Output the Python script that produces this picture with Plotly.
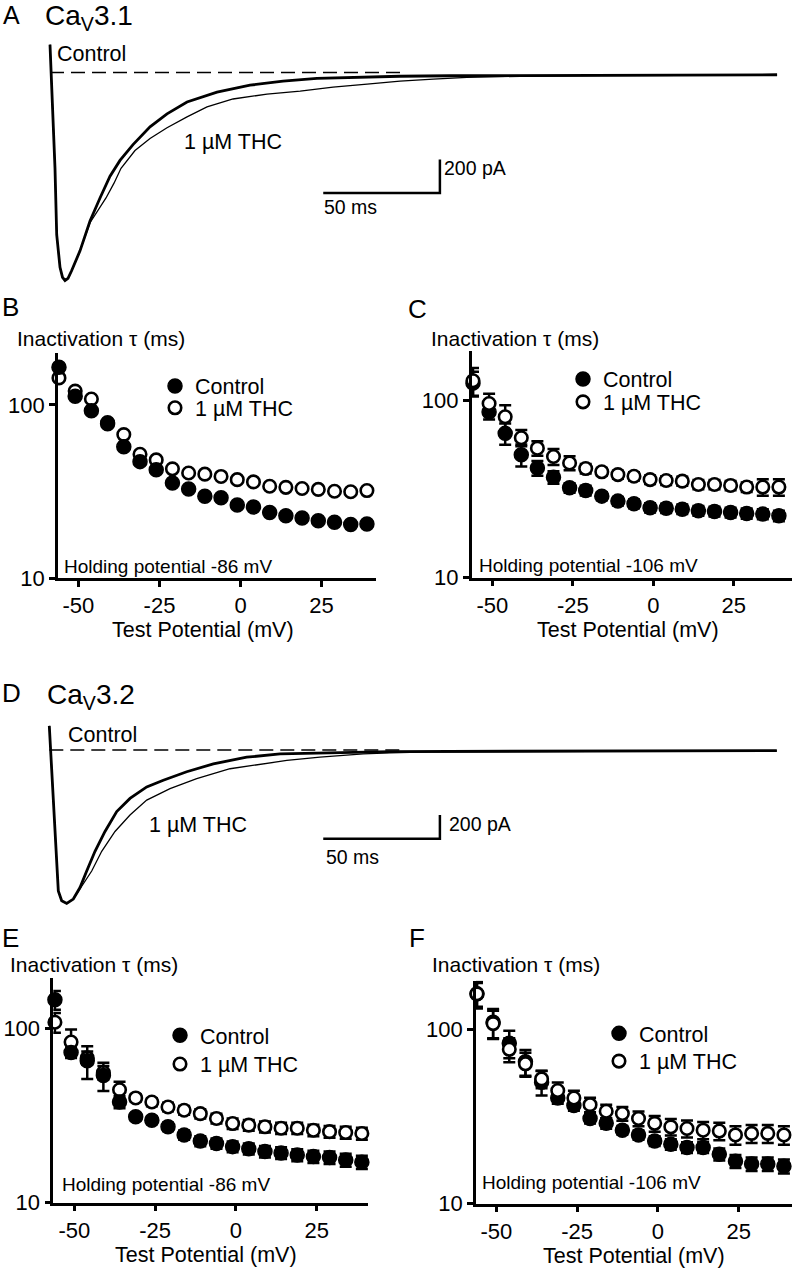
import plotly.graph_objects as go

W, H = 792, 1280
FONT = "Liberation Sans, Arial, Helvetica, sans-serif"

# ---------------- DATA ----------------
# Panel A: CaV3.1 current traces (time in ms, current in pA)
a_ctrl_t = [0, 2.14, 2.87, 4.29, 5.36, 6.43, 7.72, 9.30, 12.86, 17.15, 21.43, 25.72, 30.0, 35.58, 42.87, 50.15, 58.72, 71.58, 85.73, 99.87, 114.4, 128.6, 150.0, 171.5, 214.3, 311.6]
a_ctrl_i = [166, -569, -963, -1157, -1216, -1235, -1222, -1176, -1059, -882, -745, -616, -522, -428, -322, -245, -175, -116, -75, -51, -34, -28, -22, -19, -16, -13]
a_thc_t = [0, 2.14, 2.87, 4.29, 5.36, 6.43, 7.72, 9.30, 12.86, 17.15, 24.0, 27.43, 30.43, 36.43, 42.87, 50.15, 58.72, 67.29, 78.44, 93.0, 107.2, 121.3, 135.9, 150.0, 164.2, 178.7, 201.5, 235.7, 311.6]
a_thc_i = [166, -569, -963, -1157, -1216, -1235, -1222, -1176, -1059, -892, -745, -657, -569, -463, -392, -328, -263, -204, -157, -128, -110, -86, -69, -51, -39, -28, -22, -18, -15]

# Panel D: CaV3.2 current traces (time in ms, current in pA)
d_ctrl_t = [0, 3.86, 5.31, 7.46, 10.29, 13.16, 16.03, 19.59, 23.87, 28.89, 34.59, 41.75, 48.86, 58.89, 70.3, 84.6, 98.9, 113.2, 127.5, 146.0, 311.8]
d_ctrl_i = [203, -1186, -1269, -1292, -1255, -1158, -1019, -853, -686, -519, -408, -311, -255, -183, -117, -61, -33, -25, -19, -13, -5]
d_thc_t = [0, 3.86, 5.31, 7.46, 10.29, 13.16, 18.17, 22.46, 28.16, 34.59, 41.75, 51.74, 63.18, 77.46, 91.7, 101.8, 116.0, 134.6, 146.0, 163.2, 311.8]
d_thc_i = [203, -1186, -1269, -1292, -1255, -1165, -1019, -853, -686, -547, -422, -325, -242, -158, -117, -88, -61, -33, -25, -15, -7]

# Test potentials (mV)
vtest = [-56, -51, -46, -41, -36, -31, -26, -21, -16, -11, -6, -1, 4, 9, 14, 19, 24, 29, 34, 39]

# Panel B: CaV3.1, holding -86 mV, inactivation tau (ms)
b_ctrl = [165, 112, 92.5, 77.7, 57.2, 47.0, 42.2, 35.4, 32.7, 29.7, 29.1, 26.4, 25.7, 23.9, 22.9, 22.2, 21.4, 21.0, 20.4, 20.5]
b_thc = [143, 120, 108, 79, 67.3, 51.8, 48.1, 42.7, 40.4, 39.8, 38.6, 37.0, 35.9, 33.9, 33.4, 32.9, 32.5, 31.7, 31.5, 32.0]

# Panel C: CaV3.1, holding -106 mV
c_ctrl = [125, 86, 65.1, 49.3, 41.5, 36.8, 32.1, 31.0, 28.8, 27.0, 26.1, 24.8, 24.6, 24.3, 23.8, 23.6, 23.3, 23.0, 22.8, 22.3]
c_ctrl_err = [20, 8, 9, 7, 4, 3, 2, 2, 1.5, 1.5, 1.5, 1.5, 1.5, 1.5, 1.5, 1.5, 1.5, 1.5, 1.5, 1.5]
c_thc = [129, 96, 80.7, 61.5, 53.7, 48.2, 44.3, 41.2, 39.5, 38.1, 37.3, 35.7, 35.3, 35.0, 33.5, 33.5, 33.1, 32.4, 32.4, 32.4]
c_thc_err = [23, 13, 13, 6.5, 5, 5, 4, 2.5, 2, 2, 2, 2, 2, 2, 2, 2, 2, 2, 3.5, 3.5]

# Panel E: CaV3.2, holding -86 mV
e_ctrl = [146.8, 73.0, 65.4, 53.8, 37.9, 31.2, 29.8, 27.3, 24.5, 22.6, 21.9, 21.0, 20.4, 19.7, 19.3, 18.8, 18.4, 18.2, 17.6, 17.1]
e_ctrl_err = [18, 5, 14, 10, 3, 1.5, 1.5, 1.5, 1.5, 1.5, 1.5, 1.5, 1.5, 1.5, 1.5, 1.5, 1.5, 1.5, 1.5, 1.5]
e_thc = [109, 83.9, 68, 56, 44.6, 40.0, 37.9, 35.5, 34.0, 32.5, 30.5, 28.5, 27.9, 27.3, 26.8, 26.8, 26.1, 25.6, 25.3, 25.0]
e_thc_err = [14, 15, 6, 5, 5, 2, 2, 2, 2, 2, 2, 2, 2, 2, 2, 2, 2, 2, 2, 2]

# Panel F: CaV3.2, holding -106 mV
f_ctrl = [160, 110, 83.3, 65.2, 49.8, 40.4, 36.6, 30.8, 28.9, 26.4, 24.8, 22.9, 21.9, 21.0, 21.0, 19.2, 17.5, 16.9, 16.9, 16.4]
f_ctrl_err = [25, 21, 15, 11, 8, 3, 2.5, 2, 2, 1.5, 1.5, 1.5, 1.5, 1.5, 1.5, 1.5, 1.5, 1.5, 1.5, 1.5]
f_thc = [160, 108, 76.9, 63.5, 52, 44.6, 40.4, 37.0, 33.9, 32.9, 30.8, 28.9, 27.6, 27.0, 26.4, 26.1, 24.8, 25.3, 25.3, 24.8]
f_thc_err = [28, 20, 12, 10, 6, 5, 4, 3.5, 3, 3, 3, 3, 3, 3, 3, 3, 3, 3, 3, 3]

y_tickvals = [10, 100]
y_ticktext = ["10", "100"]
x_tickvals = [-50, -25, 0, 25]
x_ticktext = ["-50", "-25", "0", "25"]

# ---------------- HELPERS ----------------
def px_x(p):
    return p / W

def px_y(p):
    return 1 - p / H

def dom_x(a, b):
    return [a / W, b / W]

def dom_y(top, bot):
    return [1 - bot / H, 1 - top / H]

fig = go.Figure()

# ---------------- TRACE PANELS ----------------
def add_traces(tc, ic, tt, it, xa, ya, bar_t0, bar_i0):
    # dashed baseline (zero current)
    fig.add_trace(go.Scatter(x=[0, 150], y=[0, 0], mode="lines", xaxis=xa, yaxis=ya,
                             line=dict(color="black", width=1.6, dash="14px,7px"),
                             showlegend=False, hoverinfo="skip"))
    fig.add_trace(go.Scatter(x=tt, y=it, mode="lines", xaxis=xa, yaxis=ya,
                             line=dict(color="black", width=1.3), showlegend=False))
    fig.add_trace(go.Scatter(x=tc, y=ic, mode="lines", xaxis=xa, yaxis=ya,
                             line=dict(color="black", width=2.8), showlegend=False))
    # scale bar: 50 ms, 200 pA
    fig.add_trace(go.Scatter(x=[bar_t0, bar_t0 + 50, bar_t0 + 50],
                             y=[bar_i0, bar_i0, bar_i0 + 200], mode="lines",
                             xaxis=xa, yaxis=ya, line=dict(color="black", width=2.5),
                             showlegend=False, hoverinfo="skip"))

add_traces(a_ctrl_t, a_ctrl_i, a_thc_t, a_thc_i, "x", "y", 117.1, -716)
add_traces(d_ctrl_t, d_ctrl_i, d_thc_t, d_thc_i, "x4", "y4", 117.4, -747)

# ---------------- TAU PANELS ----------------
MS = 12.5

def tau_panel(xa, ya, ctrl, thc, ctrl_err, thc_err, leg_c, leg_t, open_on_top):
    def filled():
        return go.Scatter(x=vtest, y=ctrl, mode="markers", xaxis=xa, yaxis=ya,
                          name="Control", legend=leg_c, cliponaxis=False,
                          marker=dict(size=MS + 1.5, color="black",
                                      line=dict(color="black", width=1.5)),
                          error_y=(dict(type="data", array=ctrl_err, visible=True,
                                        color="black", thickness=2.5, width=6)
                                   if ctrl_err else None))
    def hollow():
        return go.Scatter(x=vtest, y=thc, mode="markers", xaxis=xa, yaxis=ya,
                          name="1 µM THC", legend=leg_t, cliponaxis=False,
                          marker=dict(size=MS, color="white",
                                      line=dict(color="black", width=2.6)),
                          error_y=(dict(type="data", array=thc_err, visible=True,
                                        color="black", thickness=2.5, width=6)
                                   if thc_err else None))
    if open_on_top:
        fig.add_trace(filled())
        fig.add_trace(hollow())
    else:
        fig.add_trace(hollow())
        fig.add_trace(filled())

tau_panel("x2", "y2", b_ctrl, b_thc, None, None, "legend", "legend2", False)
tau_panel("x3", "y3", c_ctrl, c_thc, c_ctrl_err, c_thc_err, "legend3", "legend4", True)
tau_panel("x5", "y5", e_ctrl, e_thc, e_ctrl_err, e_thc_err, "legend5", "legend6", False)
tau_panel("x6", "y6", f_ctrl, f_thc, f_ctrl_err, f_thc_err, "legend7", "legend8", True)

# ---------------- AXES ----------------
hidden = dict(visible=False, showgrid=False, zeroline=False, fixedrange=True)
TICKFONT = dict(size=22, color="black", family=FONT)

def tau_xaxis(dom, rng, anchor):
    return dict(domain=dom, range=rng, anchor=anchor, showline=True, linecolor="black",
                linewidth=2.6, ticks="outside", ticklen=6, tickwidth=2.5, tickcolor="black",
                tickvals=x_tickvals, ticktext=x_ticktext, showgrid=False, zeroline=False,
                tickfont=TICKFONT)

def tau_yaxis(dom, rng, anchor):
    return dict(domain=dom, range=rng, anchor=anchor, type="log", showline=True,
                linecolor="black", linewidth=2.6, ticks="outside", ticklen=6, tickwidth=2.5,
                tickcolor="black", tickvals=y_tickvals, ticktext=y_ticktext, showgrid=False,
                zeroline=False, tickfont=TICKFONT)

layout = dict(
    width=W, height=H, autosize=False,
    margin=dict(l=0, r=0, t=0, b=0),
    paper_bgcolor="white", plot_bgcolor="rgba(0,0,0,0)",
    font=dict(family=FONT, color="black", size=20),
    xaxis=dict(domain=[0, 1], range=[-21.43, 318.0], anchor="y", **hidden),
    yaxis=dict(domain=dom_y(20, 300), range=[-1333, 313.5], anchor="x", **hidden),
    xaxis4=dict(domain=[0, 1], range=[-21.13, 318.3], anchor="y4", **hidden),
    yaxis4=dict(domain=dom_y(720, 930), range=[-1436, 314], anchor="x4", **hidden),
    xaxis2=tau_xaxis(dom_x(58, 376), [-56.3, 41.8], "y2"),
    yaxis2=tau_yaxis(dom_y(357, 584), [1, 2.297], "x2"),
    xaxis3=tau_xaxis(dom_x(471.7, 792), [-56.4, 43.07], "y3"),
    yaxis3=tau_yaxis(dom_y(355, 583.5), [1, 2.276], "x3"),
    xaxis5=tau_xaxis(dom_x(53.3, 368), [-56.5, 40.9], "y5"),
    yaxis5=tau_yaxis(dom_y(988, 1215), [1, 2.292], "x5"),
    xaxis6=tau_xaxis(dom_x(476, 792), [-56.3, 41.5], "y6"),
    yaxis6=tau_yaxis(dom_y(990.7, 1216), [1, 2.28], "x6"),
)

# legends (one per entry so each sits where the original key is)
leg_pos = {
    "legend": (175, 390), "legend2": (175, 412),
    "legend3": (583, 383), "legend4": (583, 406),
    "legend5": (180, 1046), "legend6": (180, 1075),
    "legend7": (619, 1044), "legend8": (619, 1072),
}
for k, (cx, cy) in leg_pos.items():
    layout[k] = dict(x=px_x(cx - 20), y=px_y(cy), xanchor="left", yanchor="middle",
                     bgcolor="rgba(0,0,0,0)", borderwidth=0,
                     font=dict(size=21.5, color="black", family=FONT))

fig.update_layout(**layout)

# ---------------- TEXT ----------------
def txt(s, x, y, size, xanchor="left"):
    fig.add_annotation(text=s, x=px_x(x), y=px_y(y), xref="paper", yref="paper",
                       xanchor=xanchor, yanchor="middle", showarrow=False,
                       font=dict(size=size, color="black", family=FONT))

# panel letters
txt("A", 1, 15, 25)
txt("B", 0, 310, 26)
txt("C", 406, 312, 26)
txt("D", 0, 700, 26)
txt("E", 0, 948, 26)
txt("F", 407, 948, 26)
txt("Ca<sub>V</sub>3.1", 43, 18, 28)
txt("Ca<sub>V</sub>3.2", 45, 704, 28)

# trace labels
txt("Control", 55, 55, 21.5)
txt("1 µM THC", 182, 143, 21.5)
txt("200 pA", 442, 170, 19.5)
txt("50 ms", 322, 209, 19.5)
txt("Control", 66, 743, 21.5)
txt("1 µM THC", 147, 833, 21.5)
txt("200 pA", 447, 832, 19.5)
txt("50 ms", 324, 866, 19.5)

# tau panel titles
for x, y in [(15, 342), (429, 342), (8, 974), (430, 974)]:
    txt("Inactivation τ (ms)", x, y, 21)
for x, y in [(203, 636), (628, 636), (206, 1268), (634, 1269)]:
    txt("Test Potential (mV)", x, y, 21.5, xanchor="center")
txt("Holding potential -86 mV", 62, 572, 19)
txt("Holding potential -106 mV", 477, 571, 19)
txt("Holding potential -86 mV", 60, 1197, 19)
txt("Holding potential -106 mV", 480, 1195, 19)

# remove the default page margin so the 792x1280 figure fills the window
fig.write_html("out.html", config={"displayModeBar": False},
               post_script="document.body.style.margin='0px';")
